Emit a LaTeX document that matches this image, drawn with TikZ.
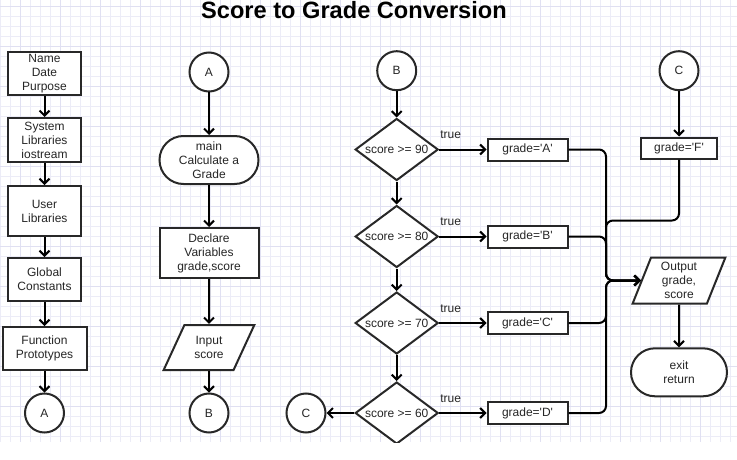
\documentclass[tikz,border=0pt]{standalone}
\usepackage{fontspec}
\setmainfont{Liberation Sans}
\usetikzlibrary{shapes.geometric,shapes.misc,arrows.meta,calc}
\definecolor{gridminor}{RGB}{236,236,247}
\definecolor{gridmajor}{RGB}{224,224,242}
\definecolor{edge}{RGB}{40,40,40}
\begin{document}
\begin{tikzpicture}[x=1pt,y=-1pt,
 every node/.style={font=\fontsize{12}{14}\selectfont, text=black!85, align=center, inner sep=0pt},
 box/.style={draw=edge, line width=2pt, fill=white, rectangle, minimum width=73pt},
 conn/.style={draw=edge, line width=2pt, fill=white, circle, minimum size=39pt},
 term/.style={draw=edge, line width=2pt, fill=white, rounded rectangle, minimum width=97pt, minimum height=48pt},
 dec/.style={draw=edge, line width=2pt, fill=white, diamond, aspect=1.33, minimum width=83pt, minimum height=62pt},
 io/.style n args={2}{draw=edge, line width=2pt, fill=white, trapezium, trapezium stretches=true, trapezium left angle=#1, trapezium right angle=#2},
 flow/.style={draw=black, line width=2pt, -{Straight Barb[length=5pt,width=10pt]}},
 merge/.style={flow, rounded corners=7pt},
 lbl/.style={anchor=base west},
]
\useasboundingbox (0,0) rectangle (737,460);
\fill[white] (0,0) rectangle (737,460);
\begin{scope}
\clip (0,0) rectangle (737,442);
% grid
\foreach \x in {0.7,10.7,...,736.7} \draw[gridminor, line width=0.8pt] (\x,0) -- (\x,442);
\foreach \y in {6,16,...,436} \draw[gridminor, line width=0.8pt] (0,\y) -- (737,\y);
\foreach \x in {20.7,60.7,...,740.7} \draw[gridmajor, line width=0.8pt] (\x,0) -- (\x,442);
\foreach \y in {6,46,...,406} \draw[gridmajor, line width=0.8pt] (0,\y) -- (737,\y);

\node[font=\fontsize{23.6}{27}\bfseries\selectfont, text=black, anchor=base] (title) at (354,18.8) {Score to Grade Conversion};

% column 1
\node[box, minimum height=43pt] (n1) at (44.5,73.5) {Name\\Date\\Purpose};
\node[box, minimum height=44pt] (n2) at (44.5,140) {System\\Libraries\\iostream};
\node[box, minimum height=50pt] (n3) at (44.5,211) {User\\Libraries};
\node[box, minimum height=43pt] (n4) at (44.5,279.5) {Global\\Constants};
\node[box, minimum width=84pt, minimum height=43pt] (n5) at (44.5,348.5) {Function\\Prototypes};
\node[conn] (a1) at (44.5,413) {A};

% column 2
\node[conn] (a2) at (209,72) {A};
\node[term, minimum width=99pt, minimum height=48pt] (mainn) at (209,160) {main\\Calculate a\\Grade};
\node[box, minimum width=99pt, minimum height=50pt] (decl) at (209,253) {Declare\\Variables\\grade,score};
\node[io={61}{119}, minimum width=91pt, minimum height=45pt] (inp) at (209,347.5) {Input\\score};
\node[conn] (b1) at (209,413) {B};

% column 3
\node[conn] (b2) at (396.7,70.7) {B};
\node[dec] (d1) at (396.7,149.5) {score >= 90};
\node[dec] (d2) at (396.7,236.5) {score >= 80};
\node[dec] (d3) at (396.7,323) {score >= 70};
\node[dec] (d4) at (396.7,413) {score >= 60};
\node[box, minimum width=80pt, minimum height=22pt] (gA) at (527.5,149.5) {grade=\textquotesingle A\textquotesingle};
\node[box, minimum width=80pt, minimum height=22pt] (gB) at (527.5,236.5) {grade=\textquotesingle B\textquotesingle};
\node[box, minimum width=80pt, minimum height=22pt] (gC) at (527.5,323) {grade=\textquotesingle C\textquotesingle};
\node[box, minimum width=80pt, minimum height=22pt] (gD) at (527.5,413) {grade=\textquotesingle D\textquotesingle};
\node[conn] (c1) at (306,413) {C};
\node[lbl] (t1) at ($(d1.east)+(1,-11)$) {true};
\node[lbl] (t2) at ($(d2.east)+(1,-11)$) {true};
\node[lbl] (t3) at ($(d3.east)+(1,-11)$) {true};
\node[lbl] (t4) at ($(d4.east)+(1,-11)$) {true};

% column 4
\node[conn] (c2) at (679,70.7) {C};
\node[box, minimum width=76pt, minimum height=21pt] (gF) at (679,148) {grade=\textquotesingle F\textquotesingle};
\node[io={72}{108}, minimum width=93pt, minimum height=46pt] (out) at (679,280.5) {Output\\grade,\\score};
\node[term, minimum width=96pt, minimum height=48pt] (exitn) at (679,372.3) {exit\\return};
\coordinate (m) at (606,280.5);

% connectors
\draw[flow] (n1) -- (n2);
\draw[flow] (n2) -- (n3);
\draw[flow] (n3) -- (n4);
\draw[flow] (n4) -- (n5);
\draw[flow] (n5) -- (a1);
\draw[flow] (a2) -- (mainn);
\draw[flow] (mainn) -- (decl);
\draw[flow] (decl) -- (inp);
\draw[flow] (inp) -- (b1);
\draw[flow] (b2) -- (d1);
\draw[flow] (d1) -- (d2);
\draw[flow] (d2) -- (d3);
\draw[flow] (d3) -- (d4);
\draw[flow] (d1.east) -- (gA.west);
\draw[flow] (d2.east) -- (gB.west);
\draw[flow] (d3.east) -- (gC.west);
\draw[flow] (d4.east) -- (gD.west);
\draw[flow] (d4.west) -- (c1);
\draw[flow] (c2) -- (gF);
\draw[merge] (gA.east) -| (m) -- (out.west);
\draw[merge] (gB.east) -| (m) -- (out.west);
\draw[merge] (gC.east) -| (m) -- (out.west);
\draw[merge] (gD.east) -| (m) -- (out.west);
\draw[merge] (gF.south) |- ($(m)+(0,-60)$) -- (m) -- (out.west);
\draw[flow] (out) -- (exitn);
\end{scope}
\end{tikzpicture}
\end{document}
